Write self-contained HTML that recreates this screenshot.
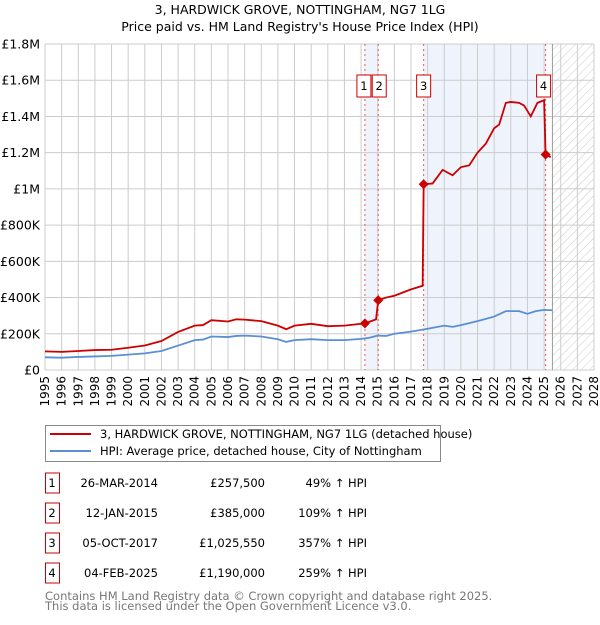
<!DOCTYPE html>
<html><head><meta charset="utf-8"><style>
body{margin:0;background:#fff;font-family:"Liberation Sans","DejaVu Sans",sans-serif;}
</style></head><body>
<svg width="600" height="620" viewBox="0 0 600 620" xmlns="http://www.w3.org/2000/svg" font-family="DejaVu Sans, Liberation Sans, sans-serif">
<defs>
<pattern id="hatch" width="6" height="6" patternUnits="userSpaceOnUse" patternTransform="rotate(45)">
<line x1="0" y1="0" x2="0" y2="6" stroke="#bbb" stroke-width="0.8"/>
</pattern>
</defs>
<text x="300" y="14" text-anchor="middle" font-size="12.5">3, HARDWICK GROVE, NOTTINGHAM, NG7 1LG</text>
<text x="300" y="31" text-anchor="middle" font-size="12.5">Price paid vs. HM Land Registry's House Price Index (HPI)</text>
<g id="plot"></g>
<g>
<rect x="45.5" y="425.5" width="395" height="36" fill="#fff" stroke="#888"/>
<line x1="50" y1="434" x2="91" y2="434" stroke="#cc0000" stroke-width="2"/>
<text x="100" y="438" font-size="11.5">3, HARDWICK GROVE, NOTTINGHAM, NG7 1LG (detached house)</text>
<line x1="50" y1="451" x2="91" y2="451" stroke="#5b8fd4" stroke-width="2"/>
<text x="100" y="455" font-size="11.5">HPI: Average price, detached house, City of Nottingham</text>
</g>
<g id="table" font-size="11.5"></g>
<text x="45" y="600" font-size="11.5" fill="#777">Contains HM Land Registry data © Crown copyright and database right 2025.</text>
<text x="45" y="610" font-size="11.5" fill="#777">This data is licensed under the Open Government Licence v3.0.</text>
</svg>
<script>
const yTicks=[0,200000,400000,600000,800000,1000000,1200000,1400000,1600000,1800000];
const yTickLabels=["£0","£200K","£400K","£600K","£800K","£1M","£1.2M","£1.4M","£1.6M","£1.8M"];
const hpiYears=[1995,1996,1997,1998,1999,2000,2001,2002,2003,2004,2004.5,2005,2006,2006.5,2007,2008,2009,2009.5,2010,2011,2012,2013,2014,2014.5,2015,2015.5,2016,2017,2018,2019,2019.5,2020,2021,2022,2022.7,2023.5,2024,2024.5,2025,2025.5];
const hpiValues=[70,68,72,75,78,85,92,105,135,165,168,185,182,188,190,185,170,155,165,170,165,165,172,178,190,188,200,212,228,245,238,248,270,295,325,325,310,325,332,330];
const priceYears=[1995,1996,1997,1998,1999,2000,2001,2002,2003,2004,2004.5,2005,2006,2006.5,2007,2008,2009,2009.5,2010,2011,2012,2013,2014.23,2014.9,2015.03,2015.5,2016,2017,2017.7,2017.76,2018.3,2018.9,2019.5,2020,2020.5,2021,2021.5,2022,2022.3,2022.7,2023,2023.5,2023.8,2024.2,2024.6,2025.0,2025.09,2025.4];
const priceValues=[103,100,105,110,112,123,135,160,210,245,248,275,268,280,278,270,245,225,245,255,242,245,257.5,280,385,400,410,445,465,1025.5,1030,1105,1075,1120,1130,1200,1250,1335,1355,1475,1480,1475,1460,1400,1475,1490,1190,1175];
const saleLabels=["1","2","3","4"];
const saleDates=[2014.23,2015.03,2017.76,2025.09];
const salePrices=[257500,385000,1025550,1190000];
const saleDateText=["26-MAR-2014","12-JAN-2015","05-OCT-2017","04-FEB-2025"];
const salePriceText=["£257,500","£385,000","£1,025,550","£1,190,000"];
const saleHpiText=["49% ↑ HPI","109% ↑ HPI","357% ↑ HPI","259% ↑ HPI"];

const NS="http://www.w3.org/2000/svg";
const X0=45,X1=594,Y0=370,Y1=44,YR0=1995,YR1=2028,VMAX=1800000;
const xs=y=>X0+(y-YR0)/(YR1-YR0)*(X1-X0);
const ys=v=>Y0-v/VMAX*(Y0-Y1);
const plot=document.getElementById('plot');
function mk(tag,attrs,parent){const e=document.createElementNS(NS,tag);for(const k in attrs)e.setAttribute(k,attrs[k]);(parent||plot).appendChild(e);return e;}

// shaded ownership periods
let s=mk('rect',{x:xs(saleDates[0]),y:Y1,width:xs(saleDates[1])-xs(saleDates[0]),height:Y0-Y1,fill:'#eef3fc'});


s=mk('rect',{x:xs(saleDates[2]),y:Y1,width:xs(saleDates[3])-xs(saleDates[2]),height:Y0-Y1,fill:'#eef3fc'});


// hatch future
const hs=2025.5;
s=mk('rect',{x:xs(hs),y:Y1,width:X1-xs(hs),height:Y0-Y1,fill:'url(#hatch)'});


// grid
for(let yr=YR0;yr<=YR1;yr++){
 const g=mk('line',{x1:xs(yr),x2:xs(yr),y1:Y1,y2:Y0,stroke:'#ccc','stroke-width':1});
 
 
 const t=mk('text',{x:0,y:0,'font-size':12,'text-anchor':'end',transform:`translate(${xs(yr)+4},${Y0+6}) rotate(-90)`});
 t.textContent=yr;
 
 
}
yTicks.forEach((v,i)=>{
 const g=mk('line',{x1:X0,x2:X1,y1:ys(v),y2:ys(v),stroke:'#ccc','stroke-width':1});
 
 
 const t=mk('text',{x:40,y:ys(v)+4.5,'font-size':12.5,'text-anchor':'end'});
 t.textContent=yTickLabels[i];
 
 
});
s=mk('line',{x1:xs(hs),x2:xs(hs),y1:Y1,y2:Y0,stroke:'#999','stroke-width':1});


// sale dashed lines
saleDates.forEach(d=>{
 const l=mk('line',{x1:xs(d),x2:xs(d),y1:Y1,y2:Y0,stroke:'#ee5555','stroke-width':1,'stroke-dasharray':'2,3'});
 
 
});
// series
const hp=mk('polyline',{points:hpiYears.map((y,i)=>xs(y)+','+ys(hpiValues[i]*1000)).join(' '),fill:'none',stroke:'#5b8fd4','stroke-width':1.8});


const pp=mk('polyline',{points:priceYears.map((y,i)=>xs(y)+','+ys(priceValues[i]*1000)).join(' '),fill:'none',stroke:'#cc0000','stroke-width':1.8});


saleDates.forEach((d,i)=>{
 const cx=xs(d),cy=ys(salePrices[i]);
 const p=mk('polygon',{points:`${cx},${cy-5} ${cx+5},${cy} ${cx},${cy+5} ${cx-5},${cy}`,fill:'#cc0000'});
 
 
});
// label boxes
const boxX=[xs(saleDates[0])-1,xs(saleDates[1])+1,xs(saleDates[2]),xs(saleDates[3])-2];
saleLabels.forEach((lb,i)=>{
 const cx=boxX[i];
 const r=mk('rect',{x:cx-7,y:75,width:14,height:22,fill:'#fff',stroke:'#cc0000','stroke-width':1});
 
 
 const t=mk('text',{x:cx,y:90,'font-size':11.5,'text-anchor':'middle'});
 t.textContent=lb;
 
 
});
// table
const tb=document.getElementById('table');
saleLabels.forEach((lb,i)=>{
 const cy=483+i*30;
 const r=mk('rect',{x:45.5,y:cy-10,width:14,height:20,fill:'#fff',stroke:'#cc0000'},tb);
 
 
 const vals=[[lb,52,'middle'],[saleDateText[i],158,'end'],[salePriceText[i],265,'end'],[saleHpiText[i],367,'end']];
 vals.forEach(v=>{
  const t=mk('text',{x:v[1],y:cy+4,'text-anchor':v[2]},tb);
  t.textContent=v[0];
  
  
 });
});
</script>
</body></html>
